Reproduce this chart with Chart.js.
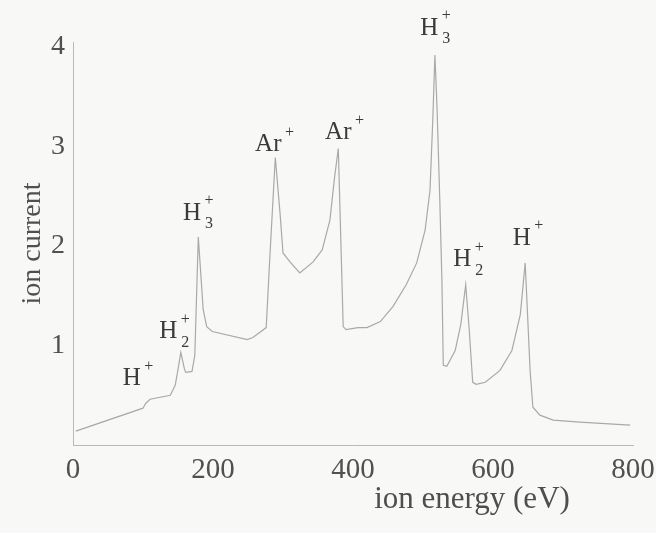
<!DOCTYPE html>
<html>
<head>
<meta charset="utf-8">
<script src="https://cdn.jsdelivr.net/npm/chart.js@4"></script>
<style>
  html, body { margin: 0; padding: 0; background: #f8f8f6; }
  #wrap { width: 656px; height: 533px; }
</style>
</head>
<body>
<div id="wrap"><canvas id="ionChart" width="656" height="533"></canvas></div>
<script>
// ion energy spectrum
const energy = [4, 100, 104, 110, 139, 146, 151, 154, 159, 161, 170, 174, 179, 186, 191, 199,
  249, 257, 276, 281, 289, 296, 300, 310, 324, 343, 356, 367, 374, 379, 386, 390, 407, 420,
  439, 457, 476, 491, 503, 510, 514, 517, 520, 524, 527, 529, 534, 546, 554, 561, 566, 571,
  576, 589, 610, 627, 639, 646, 653, 657, 667, 686, 724, 796];
const current = [0.14, 0.37, 0.42, 0.46, 0.50, 0.60, 0.80, 0.93, 0.77, 0.73, 0.74, 0.90, 2.09, 1.36, 1.19, 1.14,
  1.06, 1.08, 1.18, 1.86, 2.89, 2.31, 1.93, 1.84, 1.73, 1.84, 1.96, 2.26, 2.71, 2.98, 1.19, 1.16, 1.18, 1.18,
  1.24, 1.39, 1.61, 1.83, 2.16, 2.56, 3.27, 3.92, 3.40, 2.46, 1.66, 0.80, 0.79, 0.95, 1.21, 1.61, 1.16, 0.63,
  0.61, 0.63, 0.75, 0.95, 1.31, 1.83, 0.75, 0.38, 0.30, 0.25, 0.23, 0.20];

const xTicks = [0, 200, 400, 600, 800];
const yTicks = [1, 2, 3, 4];

// peak labels: main text, subscript, superscript, anchor (data coords)
const peakNames = ['H', 'H', 'H', 'Ar', 'Ar', 'H', 'H', 'H'];
const peakSubs  = ['', '2', '3', '', '', '3', '2', ''];
const peakSups  = ['+', '+', '+', '+', '+', '+', '+', '+'];
const peakX     = [84, 136, 170, 279, 379, 509, 556, 641];
const peakY     = [0.67, 1.14, 2.33, 3.02, 3.14, 4.19, 1.86, 2.08];

const xTitle = 'ion energy (eV)';
const xTitleAt = 570;   // energy value under which the axis title is centred

const serif = "'Liberation Serif', 'DejaVu Serif', serif";

const peakLabels = {
  id: 'peakLabels',
  afterDatasetsDraw(chart) {
    const c = chart.ctx;
    const sx = chart.scales.x, sy = chart.scales.y;
    c.save();
    c.fillStyle = '#3a3a3a';
    c.textBaseline = 'middle';
    peakNames.forEach((name, i) => {
      const px = sx.getPixelForValue(peakX[i]);
      const py = sy.getPixelForValue(peakY[i]);
      c.font = '25px ' + serif;
      c.textAlign = 'center';
      c.fillText(name, px, py);
      const w = c.measureText(name).width;
      c.font = '16px ' + serif;
      const ox = px + w / 2 + 8;
      if (peakSubs[i]) c.fillText(peakSubs[i], ox, py + 11);
      if (peakSups[i]) c.fillText(peakSups[i], ox, py - 12);
    });
    // x axis title sits right of centre in the original
    c.fillStyle = '#4e4e4e';
    c.font = '31px ' + serif;
    c.fillText(xTitle, sx.getPixelForValue(xTitleAt), sy.bottom + 55);
    c.restore();
  }
};

new Chart(document.getElementById('ionChart'), {
  type: 'line',
  data: {
    datasets: [{
      data: energy.map((e, i) => ({ x: e, y: current[i] })),
      borderColor: '#a9a9a9',
      borderWidth: 1.2,
      pointRadius: 0,
      tension: 0,
      fill: false
    }]
  },
  options: {
    responsive: false,
    animation: false,
    layout: { padding: { top: 42, right: 23, bottom: 0, left: 0 } },
    plugins: { legend: { display: false }, tooltip: { enabled: false } },
    scales: {
      x: {
        type: 'linear',
        min: 0,
        max: 800,
        afterBuildTicks: s => { s.ticks = xTicks.map(v => ({ value: v })); },
        afterFit: s => { s.height = 88; s.paddingLeft = 0; s.paddingRight = 0; },
        grid: { display: false, drawTicks: false },
        border: { color: '#b9b9b9', width: 1 },
        ticks: { color: '#505050', font: { family: serif, size: 29 }, padding: 8, maxRotation: 0 },
        title: { display: false }
      },
      y: {
        min: 0,
        max: 4.05,
        afterBuildTicks: s => { s.ticks = yTicks.map(v => ({ value: v })); },
        afterFit: s => { s.width = 73; s.paddingTop = 0; s.paddingBottom = 0; },
        grid: { display: false, drawTicks: false },
        border: { color: '#b9b9b9', width: 1 },
        ticks: { color: '#505050', font: { family: serif, size: 28 }, padding: 8 },
        title: { display: true, text: 'ion current', color: '#505050',
                 font: { family: serif, size: 28 }, padding: { top: 16, bottom: 0 } }
      }
    }
  },
  plugins: [peakLabels]
});
</script>
</body>
</html>
